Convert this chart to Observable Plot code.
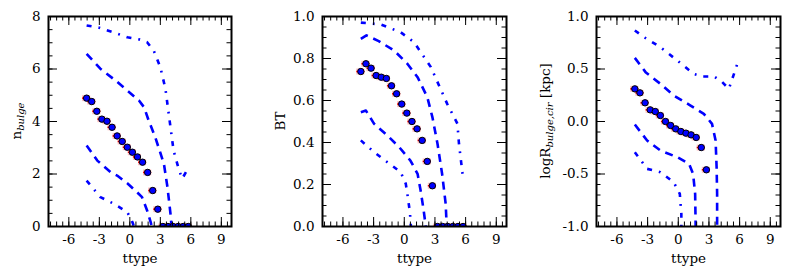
<!DOCTYPE html>
<html>
<head>
<meta charset="utf-8">
<script src="https://cdn.jsdelivr.net/npm/d3@7"></script>
<script src="https://cdn.jsdelivr.net/npm/@observablehq/plot@0.6"></script>
<style>
  html, body { margin: 0; padding: 0; background: #fff; }
  #wrap { position: relative; width: 789px; height: 280px; overflow: hidden; }
  #wrap svg, #wrap svg text { font-family: "DejaVu Serif", "Liberation Serif", serif !important; }
</style>
</head>
<body>
<div id="wrap"></div>
<script>
// ---------- data ----------
const ttypeBins = [-4.25,-3.75,-3.25,-2.75,-2.25,-1.75,-1.25,-0.75,-0.25,0.25,0.75,1.25,1.75,2.25,2.75];
const ttypeZeroBins = [3.25,3.75,4.25,4.75,5.25,5.75];
const xErr = 0.4;

const nBulge = [4.89,4.76,4.39,4.09,4.01,3.78,3.45,3.24,3.02,2.83,2.65,2.45,2.06,1.37,0.66];
const nBulgeZero = [0,0,0,0,0,0];
const btMed = [0.738,0.775,0.754,0.719,0.711,0.705,0.670,0.632,0.583,0.540,0.500,0.465,0.410,0.310,0.194];
const btZero = [0,0,0,0,0,0];
const logRMed = [0.311,0.273,0.178,0.111,0.095,0.057,0.0,-0.038,-0.070,-0.095,-0.111,-0.127,-0.152,-0.248,-0.460];

// percentile curves: n_bulge
const nP97T = [-4.25,-3,-1.5,-0.25,1,1.7,2.35,3,3.5,4,4.3,4.8,5.15,5.8];
const nP97Y = [7.66,7.57,7.38,7.21,7.12,7.02,6.70,6.07,5.25,3.78,2.9,2.2,1.82,2.26];
const nP84T = [-4.25,-2.9,-1.4,-0.25,0.9,1.4,1.85,2.5,3.35,3.7,4.0,4.1];
const nP84Y = [6.58,6.01,5.56,5.18,4.8,4.54,4.04,3.40,2.39,1.50,0.48,0.0];
const nP16T = [-4.25,-3.2,-1.9,-1.25,-0.25,0.7,1.2,1.7,2.05,2.15];
const nP16Y = [3.09,2.51,2.07,1.94,1.65,1.31,1.12,0.61,0.17,0];
const nP02T = [-4.25,-2.9,-1.6,-0.25,0.25,0.4];
const nP02Y = [1.75,1.12,0.87,0.55,0.17,0];

// percentile curves: BT
const btP97T = [-4.25,-2.3,-0.35,0.95,2.6,4.2,5.2,5.35,5.7];
const btP97Y = [0.971,0.962,0.925,0.878,0.759,0.584,0.489,0.394,0.251];
const btP84T = [-4.25,-3.7,-2.5,-1.0,0.3,1.3,2.25,2.75,3.25,3.7,4.05,4.15];
const btP84Y = [0.894,0.910,0.883,0.838,0.775,0.711,0.616,0.521,0.394,0.251,0.108,0.0];
const btP16T = [-4.25,-3.75,-2.95,-1.65,-0.5,0.6,1.3,1.6,1.9,2.1];
const btP16Y = [0.544,0.552,0.489,0.433,0.378,0.314,0.251,0.171,0.076,0.0];
const btP02T = [-4.25,-2.95,-1.65,-0.35,0.15,0.3,0.55,0.65];
const btP02Y = [0.41,0.354,0.306,0.259,0.203,0.156,0.068,0.0];

// percentile curves: logR
const rP97T = [-4.25,-3.35,-1.75,-0.1,1.5,2.35,3.5,4.3,4.95,5.45,5.8];
const rP97Y = [0.867,0.803,0.708,0.581,0.454,0.429,0.429,0.375,0.311,0.454,0.556];
const rP84T = [-4.25,-3.2,-1.75,-0.45,1.2,2.5,3.3,3.65,3.75,3.8,3.8];
const rP84Y = [0.606,0.470,0.359,0.248,0.152,0.073,-0.022,-0.181,-0.435,-0.689,-1.0];
const rP16T = [-4.25,-3.05,-1.75,-0.1,1.05,1.45,1.65,1.7];
const rP16Y = [-0.029,-0.181,-0.276,-0.340,-0.403,-0.498,-0.689,-1.0];
const rP02T = [-4.25,-3.05,-1.75,-0.45,0.15,0.3,0.3];
const rP02Y = [-0.292,-0.451,-0.483,-0.578,-0.689,-0.879,-1.0];

// axes / ticks
const xDomain = [-8, 10];
const xMajor = [-6,-3,0,3,6,9];
const xMinor = d3.range(-7.8, 10.0, 0.6);
const xLabel = "ttype";

const FONT = "DejaVu Serif";
const FS = 13.5;

const panels = [
  {left: 0, ml: 48, mr: 32, yDomain: [0, 8], yMajor: [0,2,4,6,8], yMinor: d3.range(0, 8.01, 0.5),
   fmt: d => String(d), med: nBulge, zero: nBulgeZero,
   curves: [[nP97T,nP97Y,"dd"],[nP84T,nP84Y,"d"],[nP16T,nP16Y,"d"],[nP02T,nP02Y,"dd"]],
   label: [["n",""],["bulge","sub"]], labelX: 16},
  {left: 263, ml: 59, mr: 20, yDomain: [0, 1], yMajor: [0,0.2,0.4,0.6,0.8,1.0], yMinor: d3.range(0, 1.001, 0.05),
   fmt: d => d.toFixed(1), med: btMed, zero: btZero,
   curves: [[btP97T,btP97Y,"dd"],[btP84T,btP84Y,"d"],[btP16T,btP16Y,"d"],[btP02T,btP02Y,"dd"]],
   label: [["BT",""]], labelX: 17},
  {left: 526, ml: 70, mr: 9, yDomain: [-1, 1], yMajor: [-1,-0.5,0,0.5,1], yMinor: d3.range(-1, 1.001, 0.1),
   fmt: d => d.toFixed(1), med: logRMed, zero: null,
   curves: [[rP97T,rP97Y,"dd"],[rP84T,rP84Y,"d"],[rP16T,rP16Y,"d"],[rP02T,rP02Y,"dd"]],
   label: [["logR",""],["bulge,cir","sub"],[" [kpc]",""]], labelX: 19}
];

const W = 263, H = 280, MT = 16, MB = 54;
const FH = H - MT - MB;
const wrap = document.getElementById("wrap");

for (const p of panels) {
  const FW = W - p.ml - p.mr;
  const pts = ttypeBins.map((t, i) => ({t, v: p.med[i]}));
  const zpts = p.zero ? ttypeZeroBins.map((t, i) => ({t, v: p.zero[i]})) : [];
  const lineMarks = p.curves.map(([T, Y, style]) =>
    Plot.line(T.map((t, i) => ({t, v: Y[i]})), {
      x: "t", y: "v", stroke: "#0000ff", strokeWidth: 2.6, clip: true,
      strokeDasharray: style === "d" ? "8,6" : "5,7,1.8,7", strokeLinecap: "butt"
    }));
  const allPts = pts.concat(zpts);
  const chart = Plot.plot({
    width: W, height: H,
    marginLeft: p.ml, marginRight: p.mr, marginTop: MT, marginBottom: MB,
    style: {fontFamily: FONT, fontSize: FS + "px", color: "#000", background: "#fff"},
    x: {domain: xDomain, axis: null},
    y: {domain: p.yDomain, axis: null},
    marks: [
      ...lineMarks,
      Plot.ruleY(allPts, {y: "v", x1: d => d.t - xErr, x2: d => d.t + xErr, stroke: "#ff0000", strokeOpacity: 0.25, strokeWidth: 6, clip: true}),
      Plot.ruleY(allPts, {y: "v", x1: d => d.t - xErr, x2: d => d.t + xErr, stroke: "#ff0000", strokeWidth: 1.5, clip: true}),
      Plot.dot(allPts, {x: "t", y: "v", r: 3.2, fill: "#0000ff", stroke: "#000", strokeWidth: 1, clip: true}),
      // inward ticks, all four sides
      Plot.tickX(xMinor, {x: d => d, insetTop: FH - 4.5, stroke: "#000", strokeWidth: 1}),
      Plot.tickX(xMinor, {x: d => d, insetBottom: FH - 4.5, stroke: "#000", strokeWidth: 1}),
      Plot.tickX(xMajor, {x: d => d, insetTop: FH - 9, stroke: "#000", strokeWidth: 1}),
      Plot.tickX(xMajor, {x: d => d, insetBottom: FH - 9, stroke: "#000", strokeWidth: 1}),
      Plot.tickY(p.yMinor, {y: d => d, insetRight: FW - 4.5, stroke: "#000", strokeWidth: 1}),
      Plot.tickY(p.yMinor, {y: d => d, insetLeft: FW - 4.5, stroke: "#000", strokeWidth: 1}),
      Plot.tickY(p.yMajor, {y: d => d, insetRight: FW - 9, stroke: "#000", strokeWidth: 1}),
      Plot.tickY(p.yMajor, {y: d => d, insetLeft: FW - 9, stroke: "#000", strokeWidth: 1}),
      Plot.frame({stroke: "#000", strokeWidth: 2}),
      Plot.axisX(xMajor, {tickSize: 0, tickPadding: 8, label: null, tickFormat: d => String(d), fontSize: FS, fontFamily: FONT}),
      Plot.axisY(p.yMajor, {tickSize: 0, tickPadding: 8, label: null, tickFormat: p.fmt, fontSize: FS, fontFamily: FONT}),
      Plot.text([xLabel], {frameAnchor: "bottom", dy: 36, fontSize: FS, fontFamily: FONT, fill: "#000"})
    ]
  });
  chart.style.left = p.left + "px";
  chart.style.top = "0px";
  chart.style.position = "absolute";
  wrap.appendChild(chart);

  // rotated y label with subscripts
  const svg = d3.select(chart.tagName.toLowerCase() === "svg" ? chart : chart.querySelector("svg"));
  const cy = MT + FH / 2;
  const txt = svg.append("text")
    .attr("transform", `translate(${p.labelX},${cy}) rotate(-90)`)
    .attr("text-anchor", "middle")
    .attr("dominant-baseline", "central")
    .attr("font-family", FONT)
    .attr("font-size", FS)
    .attr("fill", "#000");
  let shifted = false;
  for (const [s, kind] of p.label) {
    const ts = txt.append("tspan").text(s);
    if (kind === "sub") {
      ts.attr("font-size", 10).attr("font-style", "italic").attr("dy", 4);
      shifted = true;
    } else if (shifted) {
      ts.attr("dy", -4);
      shifted = false;
    }
  }
}
</script>
</body>
</html>
